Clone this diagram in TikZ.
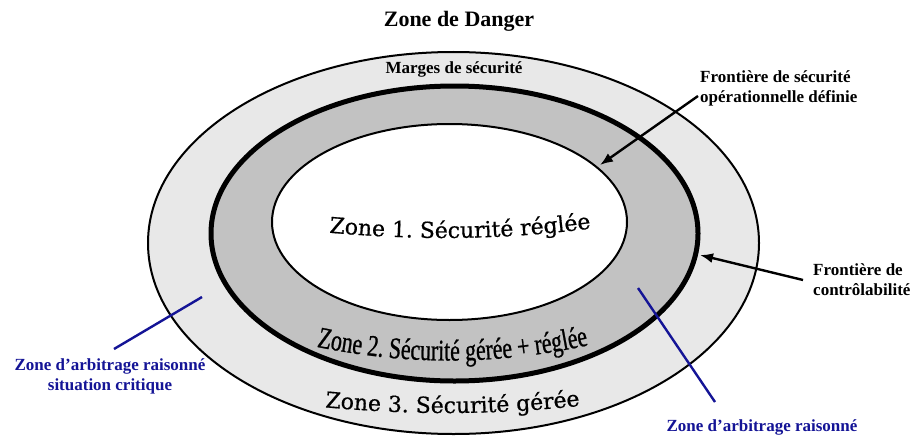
\documentclass[tikz,border=0pt]{standalone}
\usepackage{fontspec}
\setmainfont{Liberation Serif}
\newfontfamily\zonefont[FakeBold=0.6]{DejaVu Serif}
\newfontfamily\narrowzone[FakeStretch=0.73,FakeBold=0.8]{Liberation Serif}
\usetikzlibrary{arrows.meta,decorations.text}
\definecolor{arbblue}{RGB}{20,20,150}
\definecolor{ringouter}{RGB}{232,232,232}
\definecolor{ringmid}{RGB}{194,194,194}
\tikzset{
  boundlabel/.style={font=\bfseries\fontsize{17}{20}\selectfont, align=left, inner sep=0pt},
  arblabel/.style={arbblue, font=\bfseries\fontsize{17}{20}\selectfont, align=center, inner sep=0pt},
  pointer/.style={-{Latex[length=13pt,width=10pt]}, line width=2.4pt},
  arbline/.style={arbblue, line width=2.4pt}
}

\begin{document}
\begin{tikzpicture}[x=1pt,y=-1pt]
  \useasboundingbox (0,0) rectangle (912,436);
  % centres of the three boundaries
  \coordinate (outerc) at (453.5,243);
  \coordinate (midc) at (454.5,233.5);
  \coordinate (innerc) at (449.5,222);
  % Zone 3: safety margins
  \fill[ringouter] (outerc) ellipse [x radius=305.5pt, y radius=191pt];
  \draw[line width=2pt] (outerc) ellipse [x radius=305.5pt, y radius=191pt];
  % Zone 2, bounded by the controllability frontier
  \fill[ringmid] (midc) ellipse [x radius=243.5pt, y radius=147.5pt];
  \draw[line width=5pt] (midc) ellipse [x radius=243.5pt, y radius=147.5pt];
  % Zone 1
  \fill[white] (innerc) ellipse [x radius=177.5pt, y radius=98pt];
  \draw[line width=2pt] (innerc) ellipse [x radius=177.5pt, y radius=98pt];

  % zone names
  \path[decorate, decoration={text along path, text align=center,
      text={|\zonefont\fontsize{22}{22}\selectfont|Zone 1. Sécurité réglée}}]
    (310,231) .. controls (415,241) and (505,241) .. (610,226);
  \path[decorate, decoration={text along path, text align=center,
      text={|\narrowzone\fontsize{30}{30}\selectfont|Zone 2. Sécurité gérée + réglée}}]
    (295,342) .. controls (400,367) and (505,367) .. (610,340);
  \path[decorate, decoration={text along path, text align=center,
      text={|\zonefont\fontsize{22}{22}\selectfont|Zone 3. Sécurité gérée}}]
    (300,405) .. controls (410,416) and (500,416) .. (605,403);

  % titles
  \node[font=\bfseries\fontsize{22}{24}\selectfont] (title) at (459,21) {Zone de Danger};
  \node[font=\bfseries\fontsize{17}{20}\selectfont] (marges) at (454,69) {Marges de sécurité};

  % frontiers
  \node[boundlabel, anchor=west] (fsec) at (700,88) {Frontière de sécurité\\opérationnelle définie};
  \node[boundlabel, anchor=west] (fctrl) at (813,280) {Frontière de\\contrôlabilité};
  \coordinate (fsectip) at (600,165);
  \coordinate (fctrltip) at (700,255);
  \draw[pointer] ([xshift=-2pt,yshift=-8pt]fsec.west) -- (fsectip);
  \draw[pointer] ([xshift=-10pt]fctrl.west) -- (fctrltip);

  % reasoned arbitration zones
  \node[arblabel] (arbl) at (110,376) {Zone d’arbitrage raisonné\\situation critique};
  \node[arblabel] (arbr) at (762,427) {Zone d’arbitrage raisonné};
  \coordinate (arblin) at (202,297);
  \coordinate (arblout) at (114,349);
  \coordinate (arbrin) at (638,288);
  \coordinate (arbrout) at (715,402);
  \draw[arbline] (arblin) -- (arblout);
  \draw[arbline] (arbrin) -- (arbrout);
\end{tikzpicture}
\end{document}
